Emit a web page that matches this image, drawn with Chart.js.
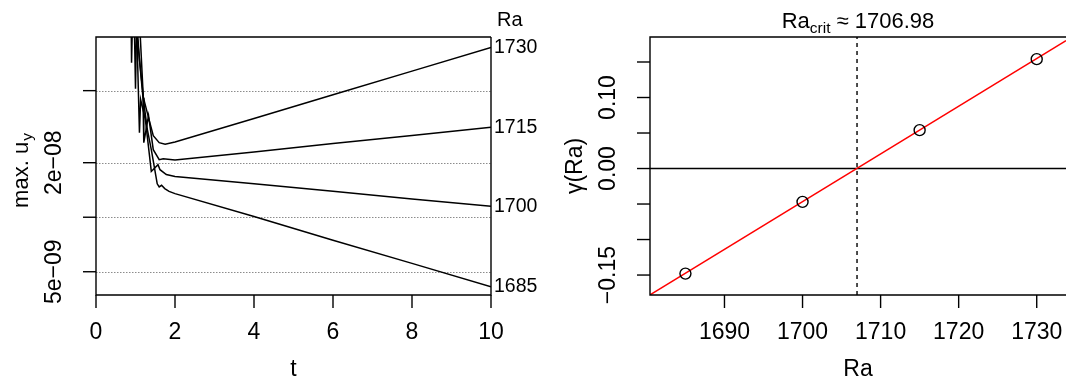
<!DOCTYPE html>
<html>
<head>
<meta charset="utf-8">
<script src="https://cdn.jsdelivr.net/npm/chart.js@4/dist/chart.umd.min.js"></script>
<style>
  html, body { margin: 0; padding: 0; background: #fff; }
  #wrap { position: relative; width: 1066px; height: 381px; overflow: hidden; }
  canvas { position: absolute; top: 0; }
  #left { left: 0; }
  #right { left: 533px; }
</style>
</head>
<body>
<div id="wrap">
  <canvas id="right" width="533" height="381"></canvas>
  <canvas id="left" width="560" height="381"></canvas>
</div>
<script>
// left panel: max. u_y over time, one run per Rayleigh number
var raRuns = [1730, 1715, 1700, 1685];
var t1730 = [0.88, 0.90, 0.93, 1.05, 1.20, 1.33, 1.45, 1.60, 1.75, 2.0, 4, 6, 8, 10];
var u1730 = [2.05e-7, 7.14e-8, 1.40e-7, 9.56e-8, 4.57e-8, 3.55e-8, 2.82e-8, 2.58e-8, 2.53e-8, 2.60e-8, 3.51e-8, 4.75e-8, 6.41e-8, 8.67e-8];
var t1715 = [0.95, 1.00, 1.03, 1.10, 1.19, 1.21, 1.33, 1.45, 1.60, 1.70, 2.0, 4, 6, 8, 10];
var u1715 = [2.05e-7, 5.13e-8, 1.23e-7, 7.41e-8, 4.57e-8, 2.58e-8, 3.64e-8, 2.36e-8, 2.08e-8, 2.10e-8, 2.07e-8, 2.29e-8, 2.55e-8, 2.83e-8, 3.14e-8];
var t1700 = [1.00, 1.10, 1.13, 1.25, 1.40, 1.57, 1.62, 1.78, 2.0, 4, 6, 8, 10];
var u1700 = [2.05e-7, 2.93e-8, 4.46e-8, 3.46e-8, 1.79e-8, 1.95e-8, 1.83e-8, 1.72e-8, 1.68e-8, 1.53e-8, 1.39e-8, 1.26e-8, 1.15e-8];
var t1685 = [1.05, 1.20, 1.30, 1.40, 1.55, 1.60, 1.66, 1.74, 1.85, 2.0, 4, 6, 8, 10];
var u1685 = [2.05e-7, 4.46e-8, 3.05e-8, 2.36e-8, 1.53e-8, 1.47e-8, 1.50e-8, 1.44e-8, 1.39e-8, 1.35e-8, 1.01e-8, 7.47e-9, 5.56e-9, 4.13e-9];
var tRange = [0, 10];
var uRange = [3.72e-9, 9.89e-8];
var tTicks = [0, 2, 4, 6, 8, 10];
var uTicks = [5e-9, 1e-8, 2e-8, 5e-8];
var uTickLabels = ["5e\u221209", "", "2e\u221208", ""];

// right panel: growth rate against Ra
var raPoints = [1685, 1700, 1715, 1730];
var gammaPoints = [-0.148, -0.047, 0.054, 0.154];
var raCrit = 1706.98;
var fitRa = [1680.46, 1733.75];
var fitGamma = [-0.178, 0.180];
var raRange = [1680.46, 1733.75];
var gammaRange = [-0.1781, 0.1852];
var raTicks = [1690, 1700, 1710, 1720, 1730];
var gammaTicks = [-0.15, -0.10, -0.05, 0, 0.05, 0.10, 0.15];
var gammaTickLabels = ["\u22120.15", "", "", "0.00", "", "0.10", ""];

var FONT = '"Liberation Sans", Arial, Helvetica, sans-serif';
var AXIS_SIZE = 23;

function pts(xs, ys) {
  return xs.map(function (x, i) { return { x: x, y: ys[i] }; });
}

function txt(ctx, s, x, y, size, align, rot) {
  ctx.save();
  ctx.translate(x, y);
  if (rot) ctx.rotate(-Math.PI / 2);
  ctx.font = size + "px " + FONT;
  ctx.fillStyle = "#000";
  ctx.textAlign = align || "center";
  ctx.textBaseline = "middle";
  ctx.fillText(s, 0, 0);
  ctx.restore();
}

// R-like box, ticks and labels, placed with the chart's own scales
var rAxes = {
  id: "rAxes",
  beforeDatasetsDraw: function (chart, args, o) {
    if (!o.grid) return;
    var ctx = chart.ctx, a = chart.chartArea, ys = chart.scales.y;
    ctx.save();
    ctx.strokeStyle = "#8c8c8c";
    ctx.lineWidth = 1;
    ctx.setLineDash([1.5, 1.5]);
    o.yTicks.forEach(function (v) {
      var y = Math.round(ys.getPixelForValue(v)) + 0.5;
      ctx.beginPath(); ctx.moveTo(a.left, y); ctx.lineTo(a.right, y); ctx.stroke();
    });
    ctx.restore();
  },
  afterDatasetsDraw: function (chart, args, o) {
    var ctx = chart.ctx, a = chart.chartArea, xs = chart.scales.x, ys = chart.scales.y;
    ctx.save();
    ctx.strokeStyle = "#000";
    ctx.lineWidth = 1.4;
    ctx.beginPath();
    ctx.moveTo(a.right, a.top); ctx.lineTo(a.left, a.top);
    ctx.lineTo(a.left, a.bottom); ctx.lineTo(a.right, a.bottom);
    if (o.closeBox) ctx.lineTo(a.right, a.top);
    ctx.stroke();

    o.xTicks.forEach(function (v) {
      var x = xs.getPixelForValue(v);
      ctx.beginPath(); ctx.moveTo(x, a.bottom); ctx.lineTo(x, a.bottom + 13); ctx.stroke();
      txt(ctx, String(v), x, a.bottom + 38, AXIS_SIZE);
    });
    o.yTicks.forEach(function (v, i) {
      var y = ys.getPixelForValue(v);
      ctx.beginPath(); ctx.moveTo(a.left, y); ctx.lineTo(a.left - 13, y); ctx.stroke();
      if (o.yLabels[i]) txt(ctx, o.yLabels[i], a.left - 41, y, AXIS_SIZE, "center", true);
    });
    txt(ctx, o.xTitle, (a.left + a.right) / 2, a.bottom + 75, AXIS_SIZE);
    ctx.restore();
  }
};

// end-of-line Ra labels and y title on the left panel
var endLabels = {
  id: "endLabels",
  afterDatasetsDraw: function (chart) {
    var ctx = chart.ctx, a = chart.chartArea;
    chart.data.datasets.forEach(function (ds, i) {
      var meta = chart.getDatasetMeta(i);
      var last = meta.data[meta.data.length - 1];
      txt(ctx, ds.label, a.right + 3, last.y, 19.5, "left");
    });
    txt(ctx, "Ra", a.right + 6, 20, 20, "left");
    ctx.save();
    ctx.translate(a.left - 74, (a.top + a.bottom) / 2 + 5);
    ctx.rotate(-Math.PI / 2);
    ctx.fillStyle = "#000";
    ctx.textBaseline = "alphabetic";
    ctx.font = "22px " + FONT;
    var main = "max. u";
    var w1 = ctx.measureText(main).width;
    ctx.font = "15.5px " + FONT;
    var w2 = ctx.measureText("y").width;
    var x0 = -(w1 + w2) / 2;
    ctx.font = "22px " + FONT;
    ctx.fillText(main, x0, 6);
    ctx.font = "15.5px " + FONT;
    ctx.fillText("y", x0 + w1 + 1, 10);
    ctx.restore();
  }
};

var tSeries = [t1730, t1715, t1700, t1685];
var uSeries = [u1730, u1715, u1700, u1685];

var left = new Chart(document.getElementById("left"), {
  type: "line",
  data: {
    datasets: raRuns.map(function (ra, i) {
      return {
        label: String(ra),
        data: pts(tSeries[i], uSeries[i]),
        borderColor: "#000",
        borderWidth: 1.5,
        pointRadius: 0,
        fill: false,
        tension: 0
      };
    })
  },
  options: {
    responsive: false,
    animation: false,
    devicePixelRatio: 1,
    layout: { autoPadding: false, padding: { left: 96, right: 69, top: 37, bottom: 86 } },
    plugins: {
      legend: { display: false },
      tooltip: { enabled: false },
      rAxes: { grid: true, closeBox: true, xTicks: tTicks, yTicks: uTicks, yLabels: uTickLabels, xTitle: "t" }
    },
    scales: {
      x: { type: "linear", min: tRange[0], max: tRange[1], display: false },
      y: { type: "logarithmic", min: uRange[0], max: uRange[1], display: false }
    }
  },
  plugins: [rAxes, endLabels]
});

// title and y title of the right panel
var rightTexts = {
  id: "rightTexts",
  afterDatasetsDraw: function (chart) {
    var ctx = chart.ctx, a = chart.chartArea;
    var big = 22, small = 15.5;
    ctx.save();
    ctx.fillStyle = "#000";
    ctx.textBaseline = "alphabetic";
    ctx.font = big + "px " + FONT;
    var wRa = ctx.measureText("Ra").width;
    var rest = " \u2248 " + raCrit.toFixed(2);
    var wRest = ctx.measureText(rest).width;
    ctx.font = small + "px " + FONT;
    var wSub = ctx.measureText("crit").width;
    var x0 = (a.left + a.right) / 2 - (wRa + wSub + wRest) / 2;
    ctx.font = big + "px " + FONT;
    ctx.fillText("Ra", x0, 28);
    ctx.fillText(rest, x0 + wRa + wSub, 28);
    ctx.font = small + "px " + FONT;
    ctx.fillText("crit", x0 + wRa, 33);
    ctx.restore();
    txt(ctx, "\u03b3(Ra)", a.left - 74, (a.top + a.bottom) / 2, AXIS_SIZE, "center", true);
  }
};

var right = new Chart(document.getElementById("right"), {
  type: "line",
  data: {
    datasets: [
      {
        label: "gamma",
        data: pts(raPoints, gammaPoints),
        showLine: false,
        pointRadius: 5.5,
        pointStyle: "circle",
        pointBorderColor: "#000",
        pointBackgroundColor: "rgba(0,0,0,0)",
        pointBorderWidth: 1.4
      },
      {
        label: "fit",
        data: pts(fitRa, fitGamma),
        borderColor: "#ff0000",
        borderWidth: 1.4,
        pointRadius: 0
      },
      {
        label: "Ra_crit",
        data: pts([raCrit, raCrit], gammaRange),
        borderColor: "#000",
        borderWidth: 1.4,
        borderDash: [4, 4],
        pointRadius: 0
      },
      {
        label: "zero",
        data: pts(raRange, [0, 0]),
        borderColor: "#000",
        borderWidth: 1.4,
        pointRadius: 0
      }
    ]
  },
  options: {
    responsive: false,
    animation: false,
    devicePixelRatio: 1,
    layout: { autoPadding: false, padding: { left: 117, right: 0, top: 37, bottom: 86 } },
    plugins: {
      legend: { display: false },
      tooltip: { enabled: false },
      rAxes: { grid: false, closeBox: false, xTicks: raTicks, yTicks: gammaTicks, yLabels: gammaTickLabels, xTitle: "Ra" }
    },
    scales: {
      x: { type: "linear", min: raRange[0], max: raRange[1], display: false },
      y: { type: "linear", min: gammaRange[0], max: gammaRange[1], display: false }
    }
  },
  plugins: [rAxes, rightTexts]
});
</script>
</body>
</html>
